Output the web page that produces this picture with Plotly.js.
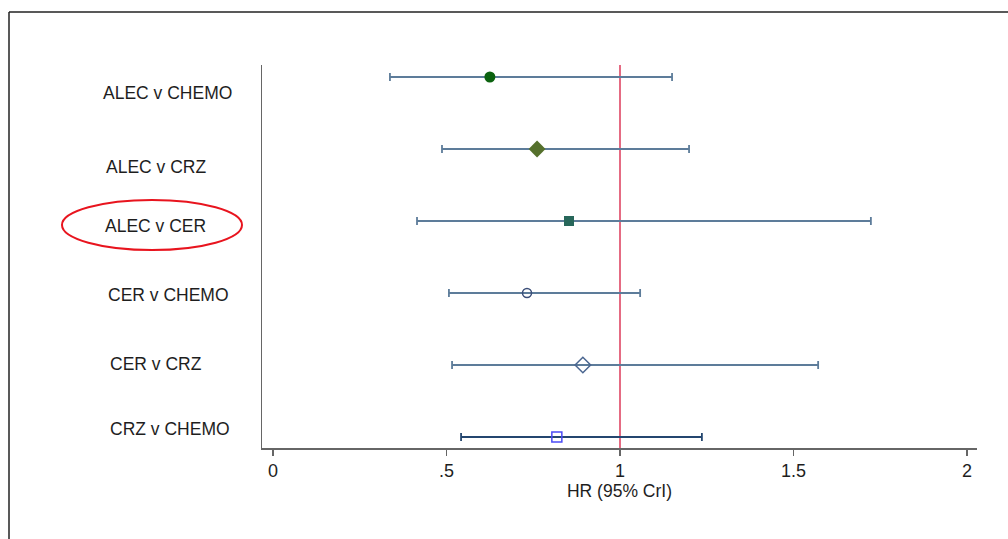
<!DOCTYPE html>
<html>
<head>
<meta charset="utf-8">
<script src="https://cdn.plot.ly/plotly-3.0.1.min.js"></script>
<style>
html,body{margin:0;padding:0;background:#fff;}
#chart{width:1008px;height:539px;}
</style>
</head>
<body>
<div id="chart"></div>
<script>
// Data (top to bottom)
var comparisons = ["ALEC v CHEMO", "ALEC v CRZ", "ALEC v CER", "CER v CHEMO", "CER v CRZ", "CRZ v CHEMO"];
var hr    = [0.625, 0.761, 0.853, 0.732, 0.893, 0.818];
var crLow = [0.337, 0.487, 0.415, 0.507, 0.516, 0.542];
var crHigh= [1.150, 1.199, 1.723, 1.058, 1.571, 1.236];
var tickValues = [0, 0.5, 1, 1.5, 2];
var tickLabels = ["0", ".5", "1", "1.5", "2"];
var xTitle = "HR (95% CrI)";
var refValue = 1;

// Styles
var markerSymbols = ["circle", "diamond", "square", "circle-open", "diamond-open", "square-open"];
var markerColors  = ["#0b620f", "#55702c", "#27675a", "#3b4e78", "#4a6690", "#4b4bf5"];
var markerSizes   = [11, 13, 10, 9, 12, 10];
var barColors     = ["#5d7c9a", "#5d7c9a", "#5d7c9a", "#5d7c9a", "#5d7c9a", "#24466f"];
var labelShift    = [-16, -18, -5, -2, 1, 8];
var labelLeftPx   = [101, 104, 103, 106, 108, 108];

var FONT = "'Liberation Sans', Arial, sans-serif";
var L = 262, R = 31, T = 65, B = 91, W = 1008, H = 539;
var pw = W - L - R, ph = H - T - B;
function px2x(px){ return (px - L) / pw; }
function py2y(py){ return (H - B - py) / ph; }

var n = comparisons.length;
var traces = comparisons.map(function(name, i){
  return {
    type: "scatter", mode: "markers",
    x: [hr[i]], y: [n - i],
    name: name,
    error_x: {type: "data", symmetric: false,
      array: [crHigh[i] - hr[i]], arrayminus: [hr[i] - crLow[i]],
      color: barColors[i], thickness: 1.8, width: 4},
    marker: {symbol: markerSymbols[i], color: markerColors[i], size: markerSizes[i],
      line: {color: markerColors[i], width: markerSymbols[i].indexOf("open") >= 0 ? 1.5 : 0}},
    hoverinfo: "x+name"
  };
});

var annotations = comparisons.map(function(name, i){
  return {text: name, xref: "paper", yref: "y", x: px2x(labelLeftPx[i]), y: n - i,
    xanchor: "left", yanchor: "middle", yshift: labelShift[i], showarrow: false,
    font: {family: FONT, size: 17.5, color: "#1e1e1e"}};
});

var shapes = [
  {type: "line", xref: "x", yref: "paper", x0: refValue, x1: refValue, y0: 0, y1: 1,
   line: {color: "#dc3a5a", width: 1.5}, layer: "below"},
  {type: "line", xref: "paper", yref: "paper", x0: px2x(9), x1: px2x(1010), y0: py2y(12), y1: py2y(12),
   line: {color: "#222", width: 1.5}},
  {type: "line", xref: "paper", yref: "paper", x0: px2x(9), x1: px2x(9), y0: py2y(12), y1: py2y(541),
   line: {color: "#222", width: 1.5}},
  {type: "circle", xref: "paper", yref: "paper", x0: px2x(62), x1: px2x(242), y0: py2y(250), y1: py2y(200),
   line: {color: "#e8141e", width: 2}}
];

var layout = {
  width: W, height: H,
  margin: {l: L, r: R, t: T, b: B, pad: 0},
  paper_bgcolor: "#fff", plot_bgcolor: "#fff",
  showlegend: false,
  xaxis: {range: [-11/347, (977-273)/347], tickvals: tickValues, ticktext: tickLabels,
    showgrid: false, zeroline: false, showline: true, linecolor: "#666", linewidth: 1.5,
    ticks: "outside", ticklen: 6, tickwidth: 1.5, tickcolor: "#666",
    tickfont: {family: FONT, size: 18, color: "#1e1e1e"},
    title: {text: xTitle, font: {family: FONT, size: 17.5, color: "#1e1e1e"}, standoff: 3}},
  yaxis: {range: [1 - 11/72, 6 + 12/72], showgrid: false, zeroline: false, showline: true,
    linecolor: "#666", linewidth: 1.5, showticklabels: false, ticks: ""},
  annotations: annotations,
  shapes: shapes
};

Plotly.newPlot("chart", traces, layout, {displayModeBar: false, staticPlot: true});
</script>
</body>
</html>
